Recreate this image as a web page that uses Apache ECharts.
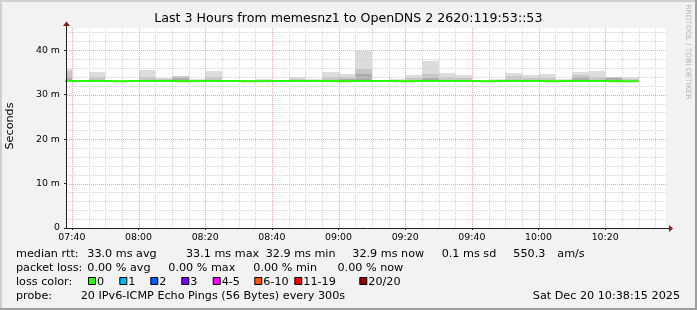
<!DOCTYPE html>
<html><head><meta charset="utf-8">
<script src="https://cdn.jsdelivr.net/npm/echarts@6/dist/echarts.min.js"></script>
<style>html,body{margin:0;padding:0;background:#f2f2f2}#c{width:697px;height:310px}</style>
</head><body><div id="c"></div><script>
// ---- data (5-minute bins, start time of each bin) ----
const binStarts = ['07:35','07:40','07:45','07:50','07:55','08:00','08:05','08:10','08:15','08:20','08:25','08:30','08:35','08:40','08:45','08:50','08:55','09:00','09:05','09:10','09:15','09:20','09:25','09:30','09:35','09:40','09:45','09:50','09:55','10:00','10:05','10:10','10:15','10:20','10:25'];
const smokeLo   = [32.8,32.8,32.8,32.8,32.8,32.8,32.8,32.8,32.8,32.8,32.8,32.8,32.8,32.8,32.8,32.8,32.8,32.8,32.8,32.8,32.8,32.8,32.8,32.8,32.8,32.8,32.8,32.8,32.8,32.8,32.8,32.8,32.8,32.8,32.8];
const smokeHi   = [35.8,33.4,35.1,33.4,33.3,35.6,33.8,34.1,33.6,35.3,33.3,33.3,33.6,33.4,34.0,33.5,35.2,34.6,39.8,33.3,33.6,34.4,37.6,34.9,34.4,33.3,33.5,34.9,34.4,34.6,33.6,35.1,35.4,34.0,34.0];
const smokeMid  = [35.3,null,33.9,null,null,33.9,33.5,34.1,null,33.9,null,null,null,null,33.6,null,33.9,34.0,35.8,null,null,33.7,34.6,34.0,33.7,null,null,34.3,33.8,33.8,null,34.5,34.0,34.0,33.6];
const smokeDark = [34.0,null,null,null,null,null,null,33.7,null,null,null,null,null,null,null,null,null,33.6,34.6,null,null,null,33.8,null,null,null,null,null,null,null,null,34.0,null,33.7,null];
const medianRtt = [33.1,33.1,33.1,33.0,33.1,33.1,33.1,33.0,33.1,33.1,33.1,33.0,33.1,33.1,33.1,33.1,33.0,33.1,33.1,33.1,33.0,33.1,33.1,33.1,33.1,33.0,33.1,33.1,33.1,33.0,33.1,33.1,33.1,33.0,33.0];
const xTickLabels = ['07:40','08:00','08:20','08:40','09:00','09:20','09:40','10:00','10:20'];
const yTickValues = [0,10,20,30,40];
const viewStart = '07:38:15', viewEnd = '10:38:15';
const yMax = 45;
const binMinutes = 5, xMinorStep = 5, yMinorStep = 2;

const titleText = 'Last 3 Hours from memesnz1 to OpenDNS 2 2620:119:53::53';
const rttStats = ['33.0 ms avg','33.1 ms max','32.9 ms min','32.9 ms now','0.1 ms sd','550.3','am/s'];
const lossStats = ['0.00 % avg','0.00 % max','0.00 % min','0.00 % now'];
const lossLabels = ['0','1','2','3','4-5','6-10','11-19','20/20'];
const lossColors = ['#26ff00','#00b8ff','#0059ff','#7e00ff','#ff00ff','#ff5500','#ff0000','#a10000'];
const probeText = '20 IPv6-ICMP Echo Pings (56 Bytes) every 300s';
const dateText = 'Sat Dec 20 10:38:15 2025';

// ---- helpers ----
function toMin(s){const p=s.split(':').map(Number);return p[0]*60+p[1]+(p[2]||0)/60;}
function fmt(m){const h=Math.floor(m/60),mm=Math.round(m-h*60);return String(h).padStart(2,'0')+':'+String(mm).padStart(2,'0');}
const xMin = toMin(viewStart), xMax = toMin(viewEnd);
const xTicks = xTickLabels.map(toMin);
const FONT = '"DejaVu Sans", Verdana, sans-serif';

const vMinor=[], vMajor=[];
for (let m = Math.ceil(xMin/xMinorStep)*xMinorStep; m < xMax; m += xMinorStep) {
  (xTicks.indexOf(m) >= 0 ? vMajor : vMinor).push(m);
}
const hMinor=[], hMajor=[];
for (let v = yMinorStep; v < yMax; v += yMinorStep) {
  (yTickValues.indexOf(v) >= 0 ? hMajor : hMinor).push(v);
}

function smokeSeries(tops, color, z){
  const data=[];
  binStarts.forEach((s,i)=>{ if(tops[i]!=null) data.push([toMin(s), smokeLo[i], tops[i]]); });
  return {type:'custom', z:z, silent:true, data:data, encode:{x:0,y:[1,2]},
    renderItem:function(params, api){
      const x0=api.value(0);
      const p0=api.coord([x0, api.value(1)]), p1=api.coord([x0+binMinutes, api.value(2)]);
      const cs=params.coordSys;
      const X0=Math.round(p0[0]), X1=Math.round(p1[0]), Y0=Math.round(p0[1]), Y1=Math.round(p1[1]);
      const r=echarts.graphic.clipRectByRect({x:X0,y:Y1,width:X1-X0,height:Y0-Y1},{x:cs.x,y:cs.y,width:cs.width,height:cs.height});
      if(!r) return null;
      return {type:'rect', shape:r, style:{fill:color}};
    }};
}
function gridSeries(vals, dir, color, z){
  return {type:'custom', z:z, silent:true,
    data: vals.map(v=> dir==='v' ? [v,0] : [xMin,v]),
    renderItem:function(params, api){
      const cs=params.coordSys;
      const p=api.coord([api.value(0), api.value(1)]);
      let shape;
      if(dir==='v'){ const x=Math.round(p[0])+0.5; shape={x1:x,y1:cs.y,x2:x,y2:cs.y+cs.height}; }
      else { const y=Math.round(p[1])+0.5; shape={x1:cs.x+1,y1:y,x2:cs.x+cs.width,y2:y}; }
      return {type:'line', shape:shape, style:{stroke:color, lineWidth:1, lineDash:[1,1]}};
    }};
}
const axesSeries = {type:'custom', z:20, silent:true, clip:false, data:[[xMin,0]],
  renderItem:function(params, api){
    const o=api.coord([xMin,0]), xe=api.coord([xMax,0]), ye=api.coord([xMin,yMax]);
    const ox=Math.round(o[0])+0.5, oy=Math.round(o[1])+0.5;
    const ex=Math.round(xe[0])+3, ey=Math.round(ye[1])-2;
    return {type:'group', children:[
      {type:'line', shape:{x1:ox-0.5,y1:oy,x2:ex,y2:oy}, style:{stroke:'#1f1f1f',lineWidth:1}},
      {type:'polygon', shape:{points:[[ex,oy-3.5],[ex+4,oy],[ex,oy+3.5]]}, style:{fill:'#801f1f'}},
      {type:'line', shape:{x1:ox,y1:oy+0.5,x2:ox,y2:ey}, style:{stroke:'#1f1f1f',lineWidth:1}},
      {type:'polygon', shape:{points:[[ox-3.5,ey],[ox,ey-4.5],[ox+3.5,ey]]}, style:{fill:'#801f1f'}}
    ]};
  }};

const medData = binStarts.map((s,i)=>[toMin(s), medianRtt[i]]);
medData.push([toMin(binStarts[binStarts.length-1])+binMinutes, medianRtt[medianRtt.length-1]]);

// ---- text layout (graphic) ----
const LEG = '11.2px '+FONT;
const g = [];
function txt(x,y,t,opt){
  opt = opt || {};
  const el = {type:'text', x:x, y:y, silent:true,
    style:{text:t, font:opt.font||LEG, fill:opt.fill||'#000', align:opt.align||'left', verticalAlign:'middle', textAlign:opt.align||'left', textVerticalAlign:'middle'}};
  if (opt.rotation != null) el.rotation = opt.rotation;
  g.push(el);
}
// frame shading
g.push({type:'rect', shape:{x:0,y:0,width:697,height:2}, style:{fill:'#cfcfcf'}, silent:true});
g.push({type:'rect', shape:{x:0,y:0,width:2,height:310}, style:{fill:'#cfcfcf'}, silent:true});
g.push({type:'rect', shape:{x:0,y:308,width:697,height:2}, style:{fill:'#9e9e9e'}, silent:true});
g.push({type:'rect', shape:{x:695,y:0,width:2,height:310}, style:{fill:'#9e9e9e'}, silent:true});
txt(348.3,19,titleText,{font:'12.6px '+FONT, align:'center'});
txt(10,126,'Seconds',{align:'center', rotation:Math.PI/2});
txt(688,52,'RRDTOOL / TOBI OETIKER',{font:'7.4px '+FONT, fill:'#b4b4b4', align:'center', rotation:-Math.PI/2});
const rttX=[87.3,186,265.7,352.3,441.7,513.3,557.3];
txt(16,254,'median rtt:'); rttStats.forEach((t,i)=>txt(rttX[i],254,t));
const lossX=[87.3,168.3,253.3,337.5];
txt(16,268.3,'packet loss:'); lossStats.forEach((t,i)=>txt(lossX[i],268.3,t));
const swX=[88,119.3,150.3,181.3,212.7,254.3,294.3,359.3];
txt(16,281.7,'loss color:');
lossLabels.forEach((t,i)=>{
  g.push({type:'rect', silent:true, shape:{x:swX[i]+0.5,y:277.5,width:7,height:7}, style:{fill:lossColors[i], stroke:'#000', lineWidth:1}});
  txt(swX[i]+9,281.7,t);
});
txt(16,296,'probe:'); txt(80.7,296,probeText); txt(680,296,dateText,{align:'right'});

const chart = echarts.init(document.getElementById('c'), null, {renderer:'canvas'});
chart.setOption({
  animation:false,
  backgroundColor:'#f2f2f2',
  grid:{left:66, right:31, top:28, height:200, containLabel:false, show:true, backgroundColor:'#ffffff', borderWidth:0},
  xAxis:{type:'value', min:xMin, max:xMax,
    axisLine:{show:false}, splitLine:{show:false},
    axisTick:{show:true, customValues:xTicks, length:2, lineStyle:{color:'#1f1f1f'}},
    axisLabel:{customValues:xTicks, formatter:v=>fmt(v), color:'#000', fontFamily:'DejaVu Sans', fontSize:9.4, margin:5}},
  yAxis:{type:'value', min:0, max:yMax,
    axisLine:{show:false}, splitLine:{show:false},
    axisTick:{show:true, customValues:yTickValues, length:2, lineStyle:{color:'#1f1f1f'}},
    axisLabel:{customValues:yTickValues, formatter:v=> v===0?'0':(v+' m'), color:'#000', fontFamily:'DejaVu Sans', fontSize:9.4, margin:6}},
  series:[
    smokeSeries(smokeHi,'#dcdcdc',2),
    smokeSeries(smokeMid,'#c6c6c6',3),
    smokeSeries(smokeDark,'#acacac',4),
    gridSeries(hMinor,'h','#d4d4d4',5),
    gridSeries(vMinor,'v','#d4d4d4',5),
    gridSeries(hMajor,'h','#f0a6a6',6),
    gridSeries(vMajor,'v','#f0a6a6',6),
    {type:'line', z:10, data:medData, step:'end', symbol:'none', silent:true, lineStyle:{color:'#26ff00', width:2}},
    axesSeries
  ],
  graphic:g
});
</script></body></html>
